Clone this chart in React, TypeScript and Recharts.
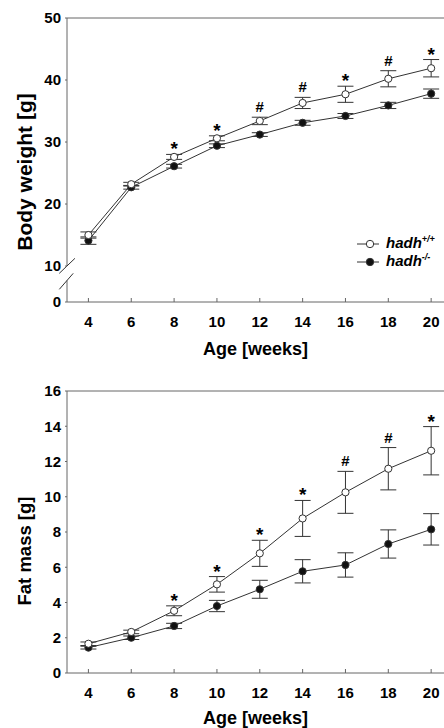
import { LineChart, Line, XAxis, YAxis, ErrorBar, LabelList, ReferenceLine, Legend } from 'recharts'

// ages in weeks
const AGES = [4, 6, 8, 10, 12, 14, 16, 18, 20]

// body weight [g], mean and SEM
const WEIGHT_WT = [15.0, 23.2, 27.6, 30.6, 33.4, 36.3, 37.7, 40.2, 41.9]
const WEIGHT_WT_SEM = [0.5, 0.3, 0.4, 0.4, 0.6, 0.9, 1.3, 1.3, 1.4]
const WEIGHT_KO = [14.1, 22.7, 26.1, 29.4, 31.2, 33.1, 34.2, 35.9, 37.8]
const WEIGHT_KO_SEM = [0.6, 0.3, 0.3, 0.3, 0.3, 0.4, 0.4, 0.5, 0.75]
const WEIGHT_SIG = ['', '', '*', '*', '#', '#', '*', '#', '*']

// fat mass [g], mean and SEM
const FAT_WT = [1.66, 2.33, 3.53, 5.03, 6.79, 8.77, 10.25, 11.59, 12.61]
const FAT_WT_SEM = [0.1, 0.1, 0.28, 0.44, 0.74, 1.02, 1.19, 1.2, 1.37]
const FAT_KO = [1.44, 2.0, 2.67, 3.8, 4.75, 5.77, 6.13, 7.32, 8.15]
const FAT_KO_SEM = [0.08, 0.1, 0.15, 0.32, 0.51, 0.66, 0.69, 0.8, 0.89]
const FAT_SIG = ['', '', '*', '*', '*', '*', '#', '#', '*']

const WEIGHT_TICKS = [10, 20, 30, 40, 50]
const FAT_TICKS = [0, 2, 4, 6, 8, 10, 12, 14, 16]
// bottom of the broken weight axis, labelled "0"
const BREAK_BOTTOM = 4.2

const NAME_WT = 'hadh+/+'
const NAME_KO = 'hadh-/-'

const FONT = '"Liberation Sans", Arial, Helvetica, sans-serif'
const AXIS = '#666'
const LINE = '#333'

function buildRows(wt: number[], wtSem: number[], ko: number[], koSem: number[], sig: string[]) {
  return AGES.map((age, i) => ({
    age,
    wt: wt[i],
    wtErr: wtSem[i],
    ko: ko[i],
    koErr: koSem[i],
    sig: sig[i],
    sigY: sig[i] ? wt[i] + wtSem[i] : null
  }))
}

const weightRows = buildRows(WEIGHT_WT, WEIGHT_WT_SEM, WEIGHT_KO, WEIGHT_KO_SEM, WEIGHT_SIG)
const fatRows = buildRows(FAT_WT, FAT_WT_SEM, FAT_KO, FAT_KO_SEM, FAT_SIG)

function XTick(props: any) {
  const { x, y, payload } = props
  return (
    <g>
      <line x1={x} x2={x} y1={y} y2={y - 4} stroke={AXIS} />
      <text x={x} y={y + 25} textAnchor="middle" fontFamily={FONT} fontWeight="bold" fontSize={15} fill="#000">
        {payload.value}
      </text>
    </g>
  )
}

function YTitle(props: any) {
  const { viewBox, text, size, shift } = props
  const cy = viewBox.y + viewBox.height / 2 + shift
  return (
    <text transform={`translate(24,${cy}) rotate(-90)`} textAnchor="middle" dominantBaseline="central"
      fontFamily={FONT} fontWeight="bold" fontSize={size} fill="#000">
      {text}
    </text>
  )
}

function SigMark(props: any) {
  const { x, y, value } = props
  if (!value) return null
  const star = value === '*'
  return (
    <text x={x} y={y + (star ? 1 : -5)} textAnchor="middle" fontFamily={FONT} fontWeight="bold"
      fontSize={star ? 19 : 15} fill="#000">
      {value}
    </text>
  )
}

function LegendBox(props: any) {
  const items = (props.payload || []).filter((p: any) => p.type !== 'none')
  return (
    <div style={{ fontFamily: FONT }}>
      {items.map((p: any) => {
        const name = String(p.value)
        const open = name.includes('+')
        return (
          <div key={name} style={{ display: 'flex', alignItems: 'center', height: 18, lineHeight: '18px' }}>
            <svg width={28} height={10} style={{ marginRight: 3 }}>
              <line x1={2} y1={5} x2={24} y2={5} stroke={LINE} />
              <circle cx={15} cy={5} r={3.7} fill={open ? '#fff' : '#111'} stroke={LINE} />
            </svg>
            <span style={{ fontWeight: 'bold', fontStyle: 'italic', fontSize: 15, color: '#000' }}>
              {name.slice(0, 4)}
              <span style={{ fontSize: 9, position: 'relative', top: -6 }}>{name.slice(4)}</span>
            </span>
          </div>
        )
      })}
    </div>
  )
}

const tickStyle = { fill: '#000', fontSize: 15, fontWeight: 'bold', fontFamily: FONT }
const titleStyle = { fill: '#000', fontSize: 18, fontWeight: 'bold', fontFamily: FONT, textAnchor: 'middle' as const }

function Series() {
  return [
    <Line key="ko" type="linear" dataKey="ko" name={NAME_KO} stroke={LINE} strokeWidth={1}
      dot={{ r: 3.6, fill: '#111', stroke: LINE, strokeWidth: 1 }} activeDot={false} isAnimationActive={false}>
      <ErrorBar dataKey="koErr" width={8} stroke={LINE} strokeWidth={1} direction="y" />
    </Line>,
    <Line key="wt" type="linear" dataKey="wt" name={NAME_WT} stroke={LINE} strokeWidth={1}
      dot={{ r: 3.6, fill: '#fff', stroke: LINE, strokeWidth: 1 }} activeDot={false} isAnimationActive={false}>
      <ErrorBar dataKey="wtErr" width={8} stroke={LINE} strokeWidth={1} direction="y" />
    </Line>,
    <Line key="sig" type="linear" dataKey="sigY" stroke="none" dot={false} activeDot={false}
      legendType="none" isAnimationActive={false}>
      <LabelList dataKey="sig" content={SigMark} />
    </Line>
  ]
}

function WeightChart() {
  return (
    <LineChart width={444} height={370} data={weightRows} margin={{ top: 18, right: 0, bottom: 0, left: 0 }}>
      <XAxis
        dataKey="age"
        type="number"
        domain={[3, 20.6]}
        ticks={AGES}
        interval={0}
        allowDataOverflow
        height={68}
        stroke={AXIS}
        tickSize={0}
        tickMargin={0}
        tick={XTick}
        label={{ value: 'Age [weeks]', position: 'insideBottom', offset: 15, style: titleStyle }}
      />
      <YAxis
        type="number"
        domain={[BREAK_BOTTOM, 50]}
        ticks={[BREAK_BOTTOM, ...WEIGHT_TICKS]}
        tickFormatter={(v: number) => (v === BREAK_BOTTOM ? '0' : String(v))}
        interval={0}
        allowDataOverflow
        width={67}
        axisLine={false}
        stroke={AXIS}
        tickSize={2}
        tickMargin={4}
        tick={tickStyle}
        label={<YTitle text="Body weight [g]" size={21} shift={12} />}
      />
      <ReferenceLine y={50} stroke={AXIS} />
      {/* broken y axis */}
      <ReferenceLine segment={[{ x: 3, y: BREAK_BOTTOM }, { x: 3, y: 7.66 }]} stroke={AXIS} ifOverflow="visible" />
      <ReferenceLine segment={[{ x: 3, y: 10 }, { x: 3, y: 50 }]} stroke={AXIS} ifOverflow="visible" />
      <ReferenceLine segment={[{ x: 2.64, y: 8.82 }, { x: 3.37, y: 11.24 }]} stroke={LINE} ifOverflow="visible" />
      <ReferenceLine segment={[{ x: 2.64, y: 6.24 }, { x: 3.29, y: 8.82 }]} stroke={LINE} ifOverflow="visible" />
      {Series()}
      <Legend content={LegendBox} layout="vertical" align="center" verticalAlign="middle"
        wrapperStyle={{ left: 355, top: 235, width: 89 }} />
    </LineChart>
  )
}

function FatChart() {
  return (
    <LineChart width={444} height={358} data={fatRows} margin={{ top: 21, right: 0, bottom: 0, left: 0 }}>
      <XAxis
        dataKey="age"
        type="number"
        domain={[3, 20.6]}
        ticks={AGES}
        interval={0}
        allowDataOverflow
        height={55}
        stroke={AXIS}
        tickSize={0}
        tickMargin={0}
        tick={XTick}
        label={{ value: 'Age [weeks]', position: 'insideBottom', offset: 4, style: titleStyle }}
      />
      <YAxis
        type="number"
        domain={[0, 16]}
        ticks={FAT_TICKS}
        interval={0}
        width={67}
        stroke={AXIS}
        tickSize={2}
        tickMargin={4}
        tick={tickStyle}
        label={<YTitle text="Fat mass [g]" size={18.5} shift={19} />}
      />
      <ReferenceLine y={16} stroke={AXIS} />
      {Series()}
    </LineChart>
  )
}

export default function App() {
  return (
    <div style={{ position: 'absolute', left: 0, top: 0, width: 444, height: 728, background: '#fff' }}>
      <WeightChart />
      <FatChart />
    </div>
  )
}
